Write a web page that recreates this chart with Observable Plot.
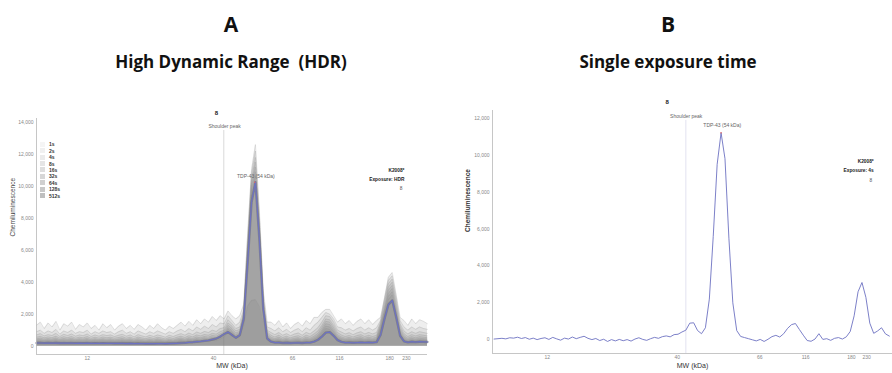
<!DOCTYPE html>
<html><head><meta charset="utf-8">
<script src="https://cdn.jsdelivr.net/npm/d3@7"></script>
<script src="https://cdn.jsdelivr.net/npm/@observablehq/plot@0.6"></script>
<style>
body{margin:0;background:#fff;}
#root{position:relative;width:892px;height:373px;overflow:hidden;background:#fff;font-family:"Open Sans",sans-serif;}
.t{position:absolute;font-weight:700;color:#111;text-align:center;white-space:pre;transform:translateX(-50%);line-height:1;}
.big{font-size:21px;top:14px;}
.sub{font-size:17px;top:53px;}
.panel{position:absolute;}
#legend{position:absolute;left:40px;top:141px;font-family:"Liberation Sans",Arial,sans-serif;font-size:5px;font-weight:700;color:#333;}
#legend .row{display:flex;align-items:center;height:6.45px;}
#legend .sw{width:5px;height:5px;margin-right:4px;}
</style></head>
<body><div id="root"></div>
<script>
// ---------- DATA ----------
const exposures = ["1s","2s","4s","8s","16s","32s","64s","128s","512s"];
// Panel A: traces sampled along the capillary (sample index 0..100)
const posA = d3.range(0, 101);
const exp1s = [1300,1500,1100,1450,1200,1550,1000,1400,1250,1500,
 1050,1350,1200,1450,1100,1300,1000,1400,1150,1350,
 1000,1250,1400,1100,1300,1050,1350,1200,1000,1300,
 1100,1400,1150,1000,1250,1100,1300,1500,1250,1550,
 1300,1650,1400,1700,1500,1850,1600,1900,1700,2200,
 1900,1700,1900,2600,7000,11000,12600,8500,3500,1500,
 1500,1300,1600,1200,1450,1100,1350,1500,1250,1600,
 1400,1800,1800,2100,2300,2300,1900,1500,1700,1400,
 1600,1300,1550,1700,1400,1650,1350,1600,1800,3000,
 4300,4600,3200,1800,1600,1300,1700,1400,1650,1550,1400];
const exp2s = [900,1000,800,950,850,1050,750,950,850,1000,
 800,900,850,1000,750,900,800,950,850,900,
 750,900,1000,800,900,750,950,850,750,900,
 800,950,850,750,900,800,950,1050,900,1100,
 950,1200,1050,1250,1100,1350,1200,1450,1400,1900,
 1600,1300,1500,2300,6600,10700,12200,8200,3300,1200,
 1100,950,1150,900,1050,850,1000,1100,900,1150,
 1000,1300,1500,1800,2100,2000,1700,1200,1150,1000,
 1100,950,1100,1200,1000,1150,1000,1150,1600,2900,
 4100,4400,3100,1600,1200,1000,1200,1050,1200,1100,1050];
const exp4s = [700,780,640,720,660,800,600,740,660,760,
 620,700,650,760,600,700,620,720,660,700,
 600,680,740,620,700,580,720,640,580,680,
 600,700,640,560,680,600,700,780,680,820,
 720,880,800,920,850,1000,920,1100,1150,1650,
 1400,1100,1200,2100,6300,10400,11800,8000,3100,1000,
 850,720,850,680,780,650,760,820,680,860,
 760,950,1150,1500,1900,1850,1500,1000,880,760,
 840,720,830,900,760,860,760,860,1500,2700,
 3900,4200,2900,1400,950,760,900,800,900,850,800];
const exp8s = [560,610,520,580,530,620,500,590,530,600,
 500,560,520,600,490,560,500,570,530,560,
 490,540,590,500,560,470,570,510,470,540,
 480,560,510,450,540,480,560,620,540,650,
 580,700,640,730,680,800,750,900,1000,1450,
 1250,950,1050,2000,6100,10200,11500,7800,2900,900,
 680,570,680,540,620,520,600,650,540,680,
 600,760,950,1300,1700,1650,1300,850,700,600,
 670,570,660,720,600,680,600,680,1400,2500,
 3700,4000,2700,1250,780,600,720,640,720,680,640];
const exp16s = [460,500,430,480,440,510,410,480,440,490,
 410,460,430,490,400,460,410,470,430,460,
 400,440,480,410,460,390,470,420,390,440,
 390,460,420,370,440,390,460,510,440,530,
 480,570,520,600,560,660,620,760,880,1300,
 1100,820,920,1900,5900,10000,11200,7600,2800,800,
 560,470,560,440,510,430,490,530,440,560,
 490,620,800,1150,1550,1500,1150,720,580,490,
 550,470,540,590,490,560,490,560,1300,2300,
 3500,3800,2500,1100,650,490,590,520,590,560,520];
const exp32s = [390,420,360,400,370,430,350,400,370,410,
 350,390,360,410,340,390,350,400,360,390,
 340,370,400,350,390,330,390,350,330,370,
 330,390,350,310,370,330,390,430,370,450,
 400,480,440,510,470,560,530,660,780,1150,
 980,720,820,1800,5700,9800,10900,7400,2700,700,
 470,400,470,370,430,360,410,450,370,470,
 410,520,680,1000,1400,1350,1000,620,490,410,
 460,400,450,490,410,470,410,470,1200,2200,
 3300,3600,2300,950,550,410,490,430,490,470,440];
const exp64s = [330,350,310,340,315,360,300,340,315,345,
 300,330,305,345,290,330,300,335,305,330,
 290,315,340,300,330,280,330,300,280,315,
 280,330,300,265,315,285,330,365,315,380,
 340,410,375,435,400,480,460,580,700,1050,
 880,640,740,1700,5500,9600,10600,7200,2600,600,
 400,340,400,315,365,305,350,380,315,400,
 350,440,590,900,1250,1200,900,540,420,350,
 390,340,380,415,350,400,350,400,1100,2100,
 3100,3400,2200,850,470,350,410,365,410,400,375];
const exp128s = [280,295,265,285,270,300,255,285,265,290,
 255,275,260,290,245,275,255,280,260,275,
 245,265,285,255,275,240,275,255,240,265,
 240,275,255,225,265,245,280,305,265,320,
 290,350,320,370,345,410,400,510,630,950,
 800,580,670,1600,5300,9400,10300,7000,2500,520,
 340,290,340,270,310,260,300,325,270,340,
 300,380,520,800,1100,1050,800,470,360,300,
 335,290,325,355,300,340,300,340,1000,2000,
 2900,3200,2000,780,400,300,350,310,350,340,320];
const exp512s = [230,240,215,235,220,245,210,235,220,240,
 210,225,215,240,200,225,210,230,215,225,
 200,215,235,210,225,195,225,210,195,215,
 195,225,210,185,215,200,230,250,220,265,
 240,290,265,310,290,350,340,440,560,850,
 720,520,600,1300,2500,2850,2900,2500,1500,450,
 280,240,280,220,255,215,245,265,220,280,
 245,310,440,700,950,920,700,400,300,245,
 275,240,265,290,245,280,245,280,900,1800,
 2700,2850,1900,700,330,245,290,255,290,280,265];
const hdrA = [200,200,190,195,190,200,185,190,185,190,
 180,185,180,185,175,180,175,180,175,175,
 170,170,175,165,170,160,165,160,155,160,
 155,160,160,155,165,170,180,200,210,240,
 250,280,300,330,360,420,480,600,760,880,
 700,520,700,1700,5200,9000,10250,6700,2300,480,
 280,220,230,200,210,195,205,215,200,220,
 220,280,400,600,850,880,650,380,270,220,
 230,210,225,240,220,240,225,250,700,1700,
 2600,2860,1800,650,300,240,280,250,280,270,260];
const expValues = [exp1s,exp2s,exp4s,exp8s,exp16s,exp32s,exp64s,exp128s,exp512s];

// Panel B: single 4 s exposure, sampled at half-integer positions
const posB = d3.range(-0.5, 101, 1);
const valB = [40,
 60,80,50,110,90,140,70,120,30,90,
 10,70,110,20,130,50,-20,90,40,150,
 60,130,190,80,10,70,-40,30,-90,10,
 -60,20,-50,10,-70,40,110,20,-30,60,
 130,80,170,210,160,280,300,420,520,900,
 920,500,330,650,2200,5600,9500,11200,9800,5500,
 2000,500,180,120,60,0,-60,20,-90,30,
 170,240,150,330,620,820,880,560,250,-40,
 -80,40,330,20,60,-30,80,120,40,160,
 450,1300,2600,3100,2300,900,350,480,650,320,200];

// Axis ticks
const mwLabels = [12,40,66,116,180,230];
const mwPosA = [13.0,45.3,65.5,77.5,90.3,94.6];
const mwPosB = [13.1,46.3,67.4,79.1,90.8,94.7];
const yTicksA = [0,2000,4000,6000,8000,10000,12000,14000];
const yTicksB = [0,2000,4000,6000,8000,10000,12000];

// Annotations (data units)
const shoulderA = 47.9, shoulderB = 48.5;
const annA = [
  {text:"8", x:46.0, y:14575, kind:"head"},
  {text:"Shoulder peak", x:48.1, y:13750, kind:"note"},
  {text:"TDP-43 (54 kDa)", x:56.1, y:10600, kind:"note"},
  {text:"K2008*", x:94.1, y:10980, kind:"info"},
  {text:"Exposure: HDR", x:94.1, y:10420, kind:"info"},
  {text:"8", x:93.6, y:9860, kind:"lane"}
];
const annB = [
  {text:"8", x:43.7, y:12860, kind:"head"},
  {text:"Shoulder peak", x:48.6, y:12100, kind:"note"},
  {text:"TDP-43 (54 kDa)", x:57.8, y:11600, kind:"note"},
  {text:"K2008*", x:96.5, y:9660, kind:"info"},
  {text:"Exposure: 4s", x:96.5, y:9140, kind:"info"},
  {text:"8", x:96.1, y:8620, kind:"lane"}
];
const peakMarkA = {x:55.8, y:10250};
const peakMarkB = {x:57.5, y:11200};

// ---------- BUILD ----------
const root = document.getElementById("root");
function addText(cls, txt, x){ const d=document.createElement("div"); d.className="t "+cls; d.textContent=txt; d.style.left=x+"px"; root.appendChild(d); }
addText("big","A",231); addText("sub","High Dynamic Range  (HDR)",231);
addText("big","B",668); addText("sub","Single exposure time",668);

const rowsA = [];
exposures.forEach((e,k)=>posA.forEach((p,i)=>rowsA.push({pos:p, value:expValues[k][i], exp:e})));
const hdrRows = posA.map((p,i)=>({pos:p, value:hdrA[i]}));
const rowsB = posB.map((p,i)=>({pos:p, value:valB[i]}));

const fontStyle = {fontFamily:"'Liberation Sans', Arial, sans-serif", fontSize:"5px", background:"transparent", overflow:"visible"};
const blue = "#6d72c2";

function annMarks(ann){
  const f = k => ann.filter(d=>d.kind===k);
  return [
    Plot.text(f("head"), {x:"x", y:"y", text:"text", textAnchor:"middle", fontSize:6, fontWeight:"bold", fill:"#222"}),
    Plot.text(f("note"), {x:"x", y:"y", text:"text", textAnchor:"middle", fontSize:5, fill:"#666"}),
    Plot.text(f("info"), {x:"x", y:"y", text:"text", textAnchor:"end", fontSize:4.8, fontWeight:"bold", fill:"#222"}),
    Plot.text(f("lane"), {x:"x", y:"y", text:"text", textAnchor:"end", fontSize:4.8, fill:"#555"})
  ];
}

const xDomA = [0,100], yDomA = [-520,14230];
const plotA = Plot.plot({
  width:440, height:273, marginLeft:36, marginRight:13, marginTop:18, marginBottom:19,
  style: fontStyle,
  x:{domain:xDomA, axis:null}, y:{domain:yDomA, axis:null},
  marks:[
    Plot.ruleX([shoulderA], {y1:yDomA[0], y2:13480, stroke:"#c8c8c8", strokeWidth:0.7}),
    Plot.areaY(rowsA, {x:"pos", y1:0, y2:"value", z:"exp", fill:"#7a7a7a", fillOpacity:0.125, curve:"linear"}),
    Plot.lineY(rowsA, {x:"pos", y:"value", z:"exp", stroke:"#8a8a8a", strokeOpacity:0.38, strokeWidth:0.6}),
    Plot.lineY(hdrRows, {x:"pos", y:"value", stroke:"#6a6a7a", strokeWidth:2.4, strokeOpacity:0.6}),
    Plot.lineY(hdrRows, {x:"pos", y:"value", stroke:blue, strokeWidth:1.2}),
    Plot.dot([peakMarkA], {x:"x", y:"y", r:0.8, fill:"#d66", stroke:null}),
    Plot.ruleX([xDomA[0]], {stroke:"#b8b8b8", strokeWidth:0.8}),
    Plot.ruleY([yDomA[0]], {stroke:"#b8b8b8", strokeWidth:0.8}),
    Plot.axisY({ticks:yTicksA, tickFormat:d3.format(","), tickSize:0, tickPadding:3, fontSize:5, color:"#888", label:null}),
    Plot.axisX({ticks:mwPosA, tickFormat:d=>mwLabels[mwPosA.indexOf(d)], tickSize:0, tickPadding:2, fontSize:5, color:"#888", label:null}),
    Plot.text(["Chemiluminescence"], {frameAnchor:"left", rotate:-90, dx:-24, fontSize:6.5, fill:"#444"}),
    Plot.text(["MW (kDa)"], {frameAnchor:"bottom", dy:13, fontSize:7, fill:"#333"}),
    ...annMarks(annA)
  ]
});
const pa = document.createElement("div"); pa.className="panel"; pa.style.left="0px"; pa.style.top="100px"; pa.appendChild(plotA); root.appendChild(pa);

// legend for panel A
const lg = document.createElement("div"); lg.id="legend";
exposures.forEach((e,i)=>{
  const r=document.createElement("div"); r.className="row";
  const s=document.createElement("div"); s.className="sw"; s.style.background=d3.interpolateGreys(0.08+i*0.035);
  const t=document.createElement("span"); t.textContent=e;
  r.appendChild(s); r.appendChild(t); lg.appendChild(r);
});
root.appendChild(lg);

const xDomB = [-0.9,101.3], yDomB = [-742,12410];
const plotB = Plot.plot({
  width:442, height:283, marginLeft:42, marginRight:0, marginTop:20, marginBottom:20,
  style: fontStyle,
  x:{domain:xDomB, axis:null}, y:{domain:yDomB, axis:null},
  marks:[
    Plot.ruleX([shoulderB], {y1:yDomB[0], y2:11870, stroke:"#d4d6e8", strokeWidth:0.7}),
    Plot.lineY(rowsB, {x:"pos", y:"value", stroke:blue, strokeWidth:0.9}),
    Plot.dot([peakMarkB], {x:"x", y:"y", r:0.8, fill:"#d66", stroke:null}),
    Plot.ruleX([xDomB[0]], {stroke:"#b8b8b8", strokeWidth:0.8}),
    Plot.ruleY([yDomB[0]], {stroke:"#b8b8b8", strokeWidth:0.8}),
    Plot.axisY({ticks:yTicksB, tickFormat:d3.format(","), tickSize:0, tickPadding:3, fontSize:5, color:"#888", label:null}),
    Plot.axisX({ticks:mwPosB, tickFormat:d=>mwLabels[mwPosB.indexOf(d)], tickSize:0, tickPadding:2, fontSize:5, color:"#888", label:null}),
    Plot.text(["Chemiluminescence"], {frameAnchor:"left", rotate:-90, dx:-25, fontSize:6.5, fontWeight:"bold", fill:"#333"}),
    Plot.text(["MW (kDa)"], {frameAnchor:"bottom", dy:14.5, fontSize:7, fill:"#333"}),
    ...annMarks(annB)
  ]
});
const pb = document.createElement("div"); pb.className="panel"; pb.style.left="450px"; pb.style.top="90px"; pb.appendChild(plotB); root.appendChild(pb);
</script>
</body></html>
